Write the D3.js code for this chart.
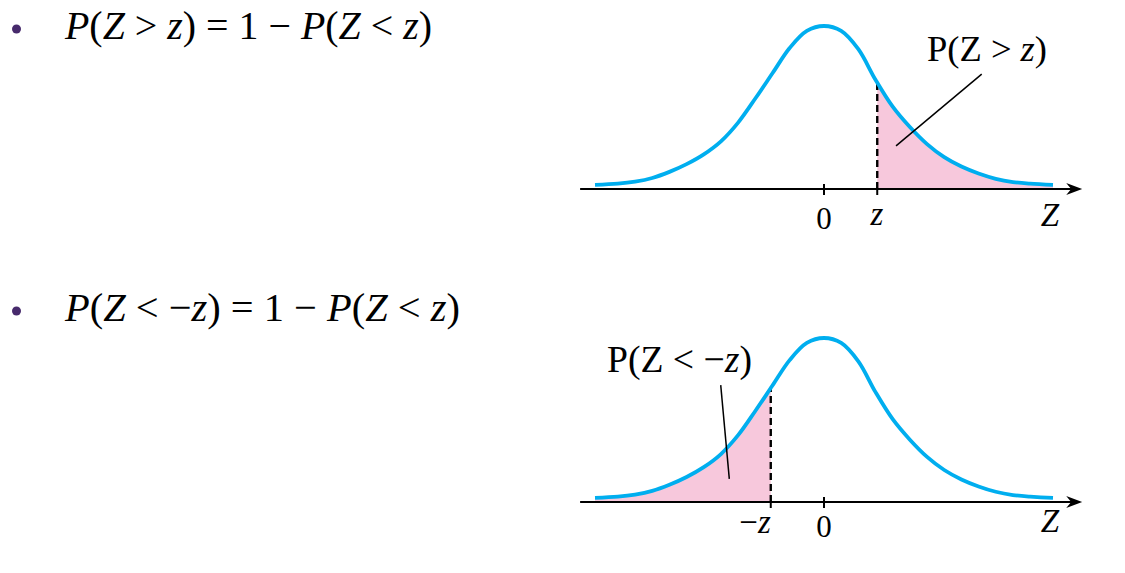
<!DOCTYPE html>
<html>
<head>
<meta charset="utf-8">
<script src="https://cdn.jsdelivr.net/npm/d3@7"></script>
<style>
  html, body { margin: 0; padding: 0; background: #ffffff; }
  svg { display: block; }
</style>
</head>
<body>
<svg id="chart" width="1125" height="573"></svg>
<script>
// ---------- data ----------
const zValues   = [-4.0, -3.6, -3.3, -3.0, -2.7, -2.4, -2.1, -1.8, -1.5, -1.2, -0.9, -0.6, -0.3, 0, 0.3, 0.6, 0.9, 1.2, 1.5, 1.8, 2.1, 2.4, 2.7, 3.0, 3.3, 3.6, 4.0];
const densities = [0.010, 0.013, 0.018, 0.027, 0.042, 0.061, 0.085, 0.117, 0.163, 0.222, 0.284, 0.346, 0.388, 0.400, 0.388, 0.343, 0.268, 0.202, 0.152, 0.110, 0.078, 0.055, 0.038, 0.025, 0.017, 0.013, 0.010];
const zCut = 0.93;
const formula1 = [["P",1],["(",0],["Z",1],[" > ",0],["z",1],[")",0],[" = 1 − ",0],["P",1],["(",0],["Z",1],[" < ",0],["z",1],[")",0]];
const formula2 = [["P",1],["(",0],["Z",1],[" < −",0],["z",1],[")",0],[" = 1 − ",0],["P",1],["(",0],["Z",1],[" < ",0],["z",1],[")",0]];
const label1 = [["P(Z > ",0],["z",1],[")",0]];
const label2 = [["P(Z < −",0],["z",1],[")",0]];

const points = zValues.map((z, i) => ({ z, d: densities[i] }));

// ---------- layout ----------
const svg = d3.select("#chart");
const serif = "'Liberation Serif', 'Times New Roman', Times, serif";
const curveColor = "#00aeef";
const fillColor = "#f7c8dc";

const x = d3.scaleLinear().domain([-4, 4]).range([595, 1053]);
const axisDomain = [-4.26, 4.51];

function richText(g, segs, px, py, size, targetWidth, anchor) {
  const t = g.append("text")
    .attr("x", px).attr("y", py)
    .attr("font-family", serif)
    .attr("font-size", size)
    .attr("fill", "#000")
    .attr("text-anchor", anchor || "start")
    .style("white-space", "pre");
  segs.forEach(([s, it]) => {
    t.append("tspan").text(s).attr("font-style", it ? "italic" : "normal");
  });
  if (targetWidth) {
    const len = t.node().getComputedTextLength();
    t.attr("font-size", size * targetWidth / len);
  }
  return t;
}

function panel(opts) {
  const g = svg.append("g");
  const y = d3.scaleLinear().domain([0, 0.4]).range([opts.axisY, opts.peakY]);

  const area = d3.area()
    .x(p => x(p.z)).y0(y(0)).y1(p => y(p.d))
    .curve(d3.curveCatmullRom.alpha(0.5));
  const line = d3.line()
    .x(p => x(p.z)).y(p => y(p.d))
    .curve(d3.curveCatmullRom.alpha(0.5));

  const clipArea = "clipArea" + opts.id;
  const clipSide = "clipSide" + opts.id;
  svg.append("clipPath").attr("id", clipArea)
    .append("path").attr("d", area(points));
  const sideX0 = opts.side === "right" ? x(zCut * opts.sign) : x(-4.5);
  const sideX1 = opts.side === "right" ? x(4.5) : x(zCut * opts.sign);
  svg.append("clipPath").attr("id", clipSide)
    .append("rect").attr("x", sideX0).attr("y", 0)
    .attr("width", sideX1 - sideX0).attr("height", 573);

  // shaded tail
  g.append("g").attr("clip-path", `url(#${clipSide})`)
    .append("path").attr("d", area(points)).attr("fill", fillColor);

  // dashed line up to the curve
  g.append("g").attr("clip-path", `url(#${clipArea})`)
    .append("line")
    .attr("x1", x(zCut * opts.sign)).attr("x2", x(zCut * opts.sign))
    .attr("y1", y(0)).attr("y2", y(0.42))
    .attr("stroke", "#000").attr("stroke-width", 2.4)
    .attr("stroke-dasharray", "7,4");

  // axis
  const ax0 = x(axisDomain[0]), ax1 = x(axisDomain[1]);
  g.append("line")
    .attr("x1", ax0).attr("x2", ax1 - 10)
    .attr("y1", y(0)).attr("y2", y(0))
    .attr("stroke", "#000").attr("stroke-width", 2.2);
  g.append("path")
    .attr("d", `M${ax1},${y(0)} L${ax1 - 16},${y(0) - 6} L${ax1 - 11},${y(0)} L${ax1 - 16},${y(0) + 6} Z`)
    .attr("fill", "#000");

  // ticks
  g.append("line")
    .attr("x1", x(0)).attr("x2", x(0))
    .attr("y1", y(0) - 5).attr("y2", y(0) + 6)
    .attr("stroke", "#000").attr("stroke-width", 2);
  g.append("line")
    .attr("x1", x(zCut * opts.sign)).attr("x2", x(zCut * opts.sign))
    .attr("y1", y(0)).attr("y2", y(0) + 6)
    .attr("stroke", "#000").attr("stroke-width", 2);

  // curve
  g.append("path").attr("d", line(points))
    .attr("fill", "none").attr("stroke", curveColor)
    .attr("stroke-width", 3.8).attr("stroke-linecap", "butt");

  // leader line
  g.append("line")
    .attr("x1", x(opts.leader[0])).attr("y1", y(opts.leader[1]))
    .attr("x2", x(opts.leader[2])).attr("y2", y(opts.leader[3]))
    .attr("stroke", "#000").attr("stroke-width", 1.5);

  // labels
  richText(g, opts.label, opts.labelX, opts.labelY, 33, opts.labelW);
  richText(g, [["0",0]], x(0), opts.zeroY, 31, null, "middle");
  richText(g, opts.cutLabel, opts.cutX, opts.cutY, 33, null, "middle");
  richText(g, [["Z",1]], 1050, opts.ZY, 33, null, "middle");
}

// bullets + formulas
svg.append("circle").attr("cx", 16.5).attr("cy", 29).attr("r", 4.5).attr("fill", "#472a6c");
svg.append("circle").attr("cx", 16.5).attr("cy", 311).attr("r", 4.5).attr("fill", "#472a6c");
richText(svg, formula1, 65, 39, 32, 367);
richText(svg, formula2, 65, 321, 32, 395);

panel({ id: 1, axisY: 189, peakY: 26, side: "right", sign: 1,
        leader: [2.755, 0.282, 1.258, 0.106],
        label: label1, labelX: 927, labelY: 61, labelW: 120,
        zeroY: 229, cutLabel: [["z",1]], cutX: 877, cutY: 225, ZY: 226 });
panel({ id: 2, axisY: 502, peakY: 338, side: "left", sign: -1,
        leader: [-1.804, 0.285, -1.654, 0.0565],
        label: label2, labelX: 607, labelY: 372, labelW: 145,
        zeroY: 537, cutLabel: [["−",0],["z",1]], cutX: 755, cutY: 533, ZY: 532 });
</script>
</body>
</html>
